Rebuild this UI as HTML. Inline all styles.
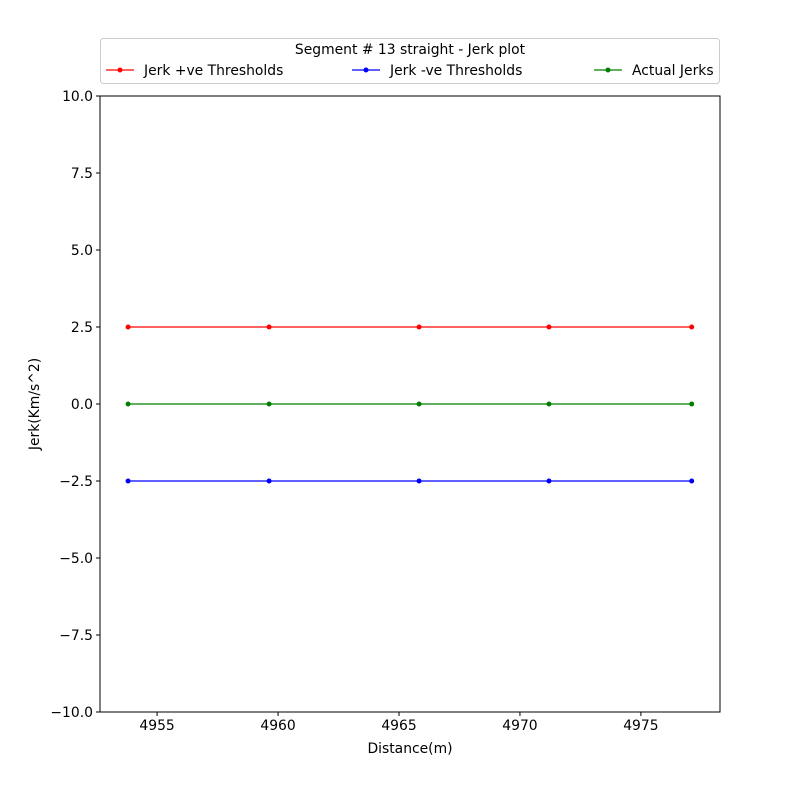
<!DOCTYPE html>
<html><head><meta charset="utf-8">
<style>
html,body{margin:0;padding:0;background:#fff;}
svg{display:block;font-family:"DejaVu Sans","Liberation Sans",sans-serif;}
</style></head>
<body>
<svg id="chart" width="800" height="800" xmlns="http://www.w3.org/2000/svg"></svg>
<script>
const distances = [4953.8, 4959.63, 4965.83, 4971.2, 4977.1];
const posThresholds = [2.5, 2.5, 2.5, 2.5, 2.5];
const negThresholds = [-2.5, -2.5, -2.5, -2.5, -2.5];
const actualJerks = [0, 0, 0, 0, 0];
const xTicks = [4955, 4960, 4965, 4970, 4975];
const yTicks = [-10, -7.5, -5, -2.5, 0, 2.5, 5, 7.5, 10];
const seriesNames = ["Jerk +ve Thresholds", "Jerk -ve Thresholds", "Actual Jerks"];

const FS=13.9;
const L=100,R=720,T=96,B=712;
const xMin=4952.64,xMax=4978.27,yMin=-10,yMax=10;
const xs=v=>L+(v-xMin)/(xMax-xMin)*(R-L);
const ys=v=>B-(v-yMin)/(yMax-yMin)*(B-T);
const svg=document.getElementById('chart');
const NS='http://www.w3.org/2000/svg';
function mk(tag,attrs,parent){const e=document.createElementNS(NS,tag);for(const k in attrs)e.setAttribute(k,attrs[k]);(parent||svg).appendChild(e);return e;}

const frame=mk('rect',{x:L,y:T,width:R-L,height:B-T,fill:'none',stroke:'#000','stroke-width':1});



xTicks.forEach(t=>{
  const x=xs(t);
  const ln=mk('line',{x1:x,y1:B,x2:x,y2:B+4,stroke:'#000'});
  
  
  const tx=mk('text',{x:x,y:B+18,'text-anchor':'middle','font-size':FS});
  tx.textContent=t;
  
  
});
yTicks.forEach(t=>{
  const y=ys(t);
  const ln=mk('line',{x1:L-4,y1:y,x2:L,y2:y,stroke:'#000'});
  
  
  const tx=mk('text',{x:L-7,y:y+5,'text-anchor':'end','font-size':FS});
  tx.textContent=(t<0?'\u2212':'')+Math.abs(t).toFixed(1);
  
  
});
const xt=mk('text',{x:(L+R)/2,y:B+41,'text-anchor':'middle','font-size':FS});
xt.textContent='Distance(m)';


const yt=mk('text',{x:0,y:0,'text-anchor':'middle','font-size':FS,transform:`translate(39,${(T+B)/2}) rotate(-90)`});
yt.textContent='Jerk(Km/s^2)';



const series=[[posThresholds,'#ff0000'],[negThresholds,'#0000ff'],[actualJerks,'#008000']];
series.forEach(([vals,c],i)=>{
  const g=mk('g',{});
  
  
  const pts=vals.map((v,j)=>xs(distances[j])+','+ys(v)).join(' ');
  const pl=mk('polyline',{points:pts,fill:'none',stroke:c,'stroke-width':1.2},g);
  
  
  vals.forEach((v,j)=>{
    const p=mk('circle',{cx:xs(distances[j]),cy:ys(v),r:2.5,fill:c},g);
    
    
  });
});

const lg=mk('g',{});


mk('rect',{x:100.5,y:38.5,width:619,height:45,rx:3,fill:'#fff',stroke:'#ccc'},lg);
const lt=mk('text',{x:410,y:54,'text-anchor':'middle','font-size':FS},lg);
lt.textContent='Segment # 13 straight - Jerk plot';


const lx=[106,352,594];
series.forEach(([v,c],i)=>{
  const e=mk('g',{},lg);
  
  
  mk('line',{x1:lx[i],y1:70,x2:lx[i]+28,y2:70,stroke:c,'stroke-width':1.2},e);
  mk('circle',{cx:lx[i]+14,cy:70,r:2.5,fill:c},e);
  const t=mk('text',{x:lx[i]+38,y:75,'font-size':FS},e);
  t.textContent=seriesNames[i];
});
</script>
</body></html>
